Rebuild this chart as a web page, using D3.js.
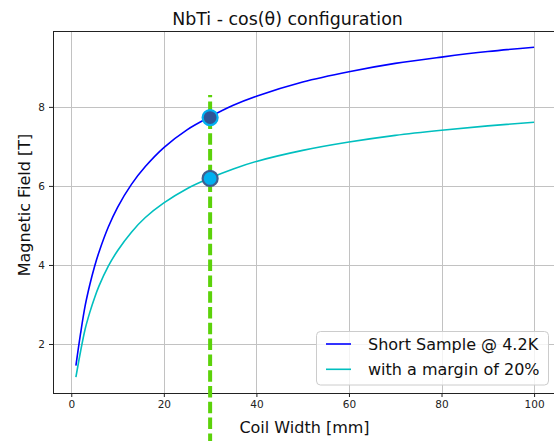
<!DOCTYPE html>
<html>
<head>
<meta charset="utf-8">
<script src="https://cdn.jsdelivr.net/npm/d3@7"></script>
<style>
  body { margin: 0; background: #fff; }
  svg { font-family: "DejaVu Sans", sans-serif; display: block; }
</style>
</head>
<body>
<div id="plot"></div>
<script>
// Values
const coilWidth = [1, 2, 3, 4, 5, 6, 8, 10, 13, 16, 20, 25, 30, 35, 40, 50, 60, 70, 80, 90, 100];
const shortSample = [1.45, 2.26, 2.97, 3.50, 3.95, 4.33, 4.96, 5.46, 6.04, 6.49, 6.97, 7.42, 7.75, 8.04, 8.27, 8.63, 8.89, 9.10, 9.26, 9.40, 9.51];
const withMargin = [1.16, 1.81, 2.38, 2.80, 3.16, 3.47, 3.97, 4.36, 4.83, 5.20, 5.57, 5.93, 6.20, 6.43, 6.62, 6.90, 7.11, 7.28, 7.41, 7.52, 7.61];
const seriesNames = ["Short Sample @ 4.2K", "with a margin of 20%"];
const xTicks = [0, 20, 40, 60, 80, 100];
const yTicks = [2, 4, 6, 8];
const chosenWidth = 30;
const chosenFields = [7.73, 6.19];
const markerLineTop = 8.3;
const markerLineBottom = -0.6;

const width = 554;
const height = 441;
const marginLeft = 53, marginTop = 31, marginBottom = 48;
const plotRight = 557;

var svg = d3.select("#plot").append("svg")
    .attr("width", width)
    .attr("height", height);

var x = d3.scaleLinear().domain([-3.95, 104.95]).range([marginLeft, plotRight]);
var y = d3.scaleLinear().domain([0.76, 9.92]).range([height - marginBottom, marginTop]);

const bottom = height - marginBottom;

// Grid
var grid = svg.append("g").attr("stroke", "#c2c2c2").attr("stroke-width", 1);
xTicks.forEach(function(t) {
    var px = Math.round(x(t)) + 0.5;
    grid.append("line").attr("x1", px).attr("x2", px).attr("y1", marginTop).attr("y2", bottom);
});
yTicks.forEach(function(t) {
    var py = Math.round(y(t)) + 0.5;
    grid.append("line").attr("x1", marginLeft).attr("x2", plotRight).attr("y1", py).attr("y2", py);
});

// Curves
var line = d3.line()
    .x(function(d, i) { return x(coilWidth[i]); })
    .y(function(d) { return y(d); })
    .curve(d3.curveCatmullRom.alpha(0.5));

const colors = ["#0000ff", "#00bfbf"];
[shortSample, withMargin].forEach(function(vals, i) {
    svg.append("path")
        .attr("d", line(vals))
        .attr("fill", "none")
        .attr("stroke", colors[i])
        .attr("stroke-width", 1.6);
});

// Axes frame
svg.append("rect")
    .attr("x", marginLeft + 0.5).attr("y", marginTop + 0.5)
    .attr("width", plotRight - marginLeft).attr("height", bottom - marginTop)
    .attr("fill", "none").attr("stroke", "#222").attr("stroke-width", 1);

// Ticks
var xAxis = d3.axisBottom(x).tickValues(xTicks).tickSize(4).tickPadding(4);
svg.append("g")
    .attr("transform", `translate(0,${bottom})`)
    .call(xAxis)
    .call(g => g.select(".domain").remove())
    .call(g => g.selectAll("text").attr("font-size", 10.5).attr("fill", "#222").attr("font-family", "DejaVu Sans"))
    .call(g => g.selectAll("line").attr("stroke", "#222"));

var yAxis = d3.axisLeft(y).tickValues(yTicks).tickSize(4).tickPadding(4);
svg.append("g")
    .attr("transform", `translate(${marginLeft},0)`)
    .call(yAxis)
    .call(g => g.select(".domain").remove())
    .call(g => g.selectAll("text").attr("font-size", 10.5).attr("fill", "#222").attr("font-family", "DejaVu Sans"))
    .call(g => g.selectAll("line").attr("stroke", "#222"));

// Dashed operating line (drawn over the frame, not clipped)
svg.append("line")
    .attr("x1", x(chosenWidth)).attr("x2", x(chosenWidth))
    .attr("y1", y(markerLineTop)).attr("y2", y(markerLineBottom))
    .attr("stroke", "#5cd20a")
    .attr("stroke-width", 4)
    .attr("stroke-dasharray", "11.5,4.3")
    .attr("stroke-dashoffset", 9.2);

// Operating points
const faceColors = ["#2f5597", "#00b0f0"];
const edgeColors = ["#00b0f0", "#3f5f8f"];
chosenFields.forEach(function(v, i) {
    svg.append("circle")
        .attr("cx", x(chosenWidth)).attr("cy", y(v))
        .attr("r", 7.5)
        .attr("fill", faceColors[i])
        .attr("stroke", edgeColors[i])
        .attr("stroke-width", 2.2);
});

// Title and labels
svg.append("text")
    .attr("x", 287.5).attr("y", 25)
    .attr("text-anchor", "middle")
    .attr("font-size", 17.4)
    .attr("fill", "#111")
    .text("NbTi - cos(θ) configuration");

svg.append("text")
    .attr("x", 304.5).attr("y", 433)
    .attr("text-anchor", "middle")
    .attr("font-size", 16)
    .attr("fill", "#111")
    .text("Coil Width [mm]");

svg.append("text")
    .attr("transform", "translate(29.5,205) rotate(-90)")
    .attr("text-anchor", "middle")
    .attr("font-size", 16)
    .attr("fill", "#111")
    .text("Magnetic Field [T]");

// Legend
var legend = svg.append("g");
legend.append("rect")
    .attr("x", 316.5).attr("y", 331.5)
    .attr("width", 232).attr("height", 53.5)
    .attr("rx", 4)
    .attr("fill", "#fff").attr("fill-opacity", 0.8)
    .attr("stroke", "#cccccc").attr("stroke-width", 1);

seriesNames.forEach(function(name, i) {
    var rowY = 344 + i * 25.3;
    legend.append("line")
        .attr("x1", 326).attr("x2", 351)
        .attr("y1", rowY).attr("y2", rowY)
        .attr("stroke", colors[i]).attr("stroke-width", 1.6);
    legend.append("text")
        .attr("x", 368).attr("y", rowY + 5.8)
        .attr("font-size", 16)
        .attr("fill", "#111")
        .text(name);
});
</script>
</body>
</html>
